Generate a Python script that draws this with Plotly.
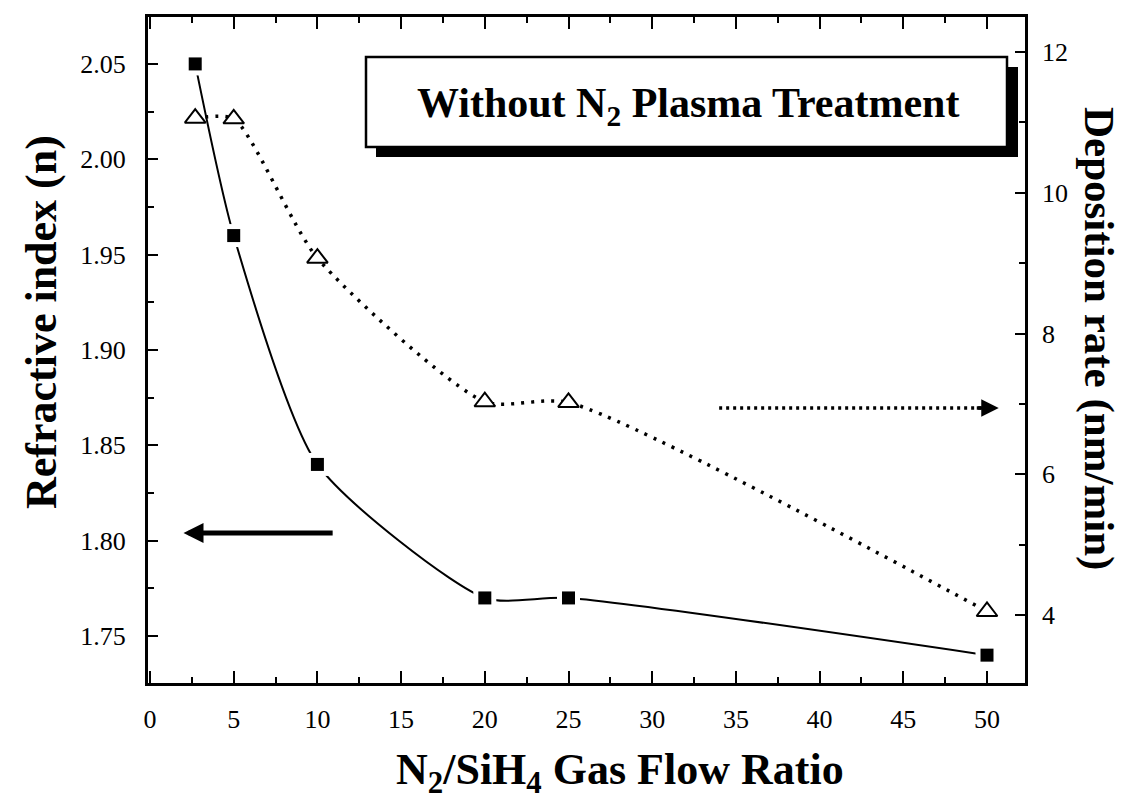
import plotly.graph_objects as go

# ---------------- data ----------------
ratio = [2.7, 5, 10, 20, 25, 50]                     # N2/SiH4 gas flow ratio
refr_index = [2.05, 1.96, 1.84, 1.77, 1.77, 1.74]     # refractive index (left axis)
dep_rate = [11.06, 11.05, 9.07, 7.03, 7.02, 4.05]     # deposition rate nm/min (right axis)
x_ticks = [0, 5, 10, 15, 20, 25, 30, 35, 40, 45, 50]
y_ticks = [1.75, 1.80, 1.85, 1.90, 1.95, 2.00, 2.05]
y2_ticks = [4, 6, 8, 10, 12]

# ---------------- geometry helpers ----------------
W, H = 1125, 799
L, R, T, B = 148, 1025, 17, 683  # plot-area pixel edges
def px(x):
    return (x - L) / (R - L)
def py(y):
    return (B - y) / (B - T)

FONT = "Liberation Serif"

fig = go.Figure()

# solid spline for refractive index
fig.add_trace(go.Scatter(x=ratio, y=refr_index, mode="lines",
                         line=dict(color="black", width=2, shape="spline", smoothing=0.65),
                         yaxis="y", hoverinfo="skip"))
# white gap markers around squares
fig.add_trace(go.Scatter(x=ratio, y=refr_index, mode="markers",
                         marker=dict(symbol="square", size=23, color="white",
                                     line=dict(width=0)),
                         yaxis="y", hoverinfo="skip"))
# black squares
fig.add_trace(go.Scatter(x=ratio, y=refr_index, mode="markers",
                         marker=dict(symbol="square", size=13, color="black",
                                     line=dict(width=0)),
                         yaxis="y"))

# dotted spline for deposition rate
fig.add_trace(go.Scatter(x=ratio, y=dep_rate, mode="lines",
                         line=dict(color="black", width=3.5, shape="spline", smoothing=0.65,
                                   dash="3px,7px"),
                         yaxis="y2", hoverinfo="skip"))
# open triangles
fig.add_trace(go.Scatter(x=ratio, y=dep_rate, mode="markers",
                         marker=dict(symbol="triangle-up", size=18, color="white",
                                     line=dict(width=2, color="black")),
                         yaxis="y2"))

axis_common = dict(showgrid=False, zeroline=False, showline=True, linecolor="black",
                   tickcolor="black", ticks="inside",
                   tickfont=dict(family=FONT, size=26, color="black"))

fig.update_layout(
    width=W, height=799,
    margin=dict(l=L, r=W - R, t=T, b=H - B, pad=0),
    paper_bgcolor="white", plot_bgcolor="white",
    showlegend=False,
    xaxis=dict(range=[-0.12, 52.27], tickvals=x_ticks, ticklen=12, tickwidth=2,
               linewidth=3, mirror="ticks", ticklabelstandoff=11,
               minor=dict(ticks="inside", ticklen=6, tickwidth=2, dtick=2.5, tick0=0,
                          tickcolor="black", showgrid=False),
               **axis_common),
    yaxis=dict(range=[1.7254, 2.0746], tickvals=y_ticks, tickformat=".2f",
               ticklen=10, tickwidth=2, linewidth=3, ticklabelstandoff=14,
               minor=dict(ticks="inside", ticklen=6, tickwidth=2, dtick=0.025, tick0=1.75,
                          tickcolor="black", showgrid=False),
               **axis_common),
    yaxis2=dict(range=[3.034, 12.497], tickvals=y2_ticks, overlaying="y", side="right",
                ticklen=10, tickwidth=2, linewidth=2.5, ticklabelstandoff=9,
                minor=dict(ticks="inside", ticklen=6, tickwidth=2, dtick=1, tick0=0,
                           tickcolor="black", showgrid=False),
                **axis_common),
)

ann_common = dict(xref="paper", yref="paper", showarrow=False,
                  xanchor="center", yanchor="middle")

# axis titles as annotations
fig.add_annotation(text="<b>Refractive index (n)</b>", x=px(42), y=py(322), textangle=-90,
                   font=dict(family=FONT, size=44, color="black"), **ann_common)
fig.add_annotation(text="<b>Deposition rate (nm/min)</b>", x=px(1099), y=py(338), textangle=90,
                   font=dict(family=FONT, size=43, color="black"), **ann_common)
fig.add_annotation(text="<b>N<sub>2</sub>/SiH<sub>4</sub> Gas Flow Ratio</b>",
                   x=px(620), y=py(772),
                   font=dict(family=FONT, size=44, color="black"), **ann_common)

# text box with drop shadow
fig.add_shape(type="rect", xref="paper", yref="paper",
              x0=px(376), x1=px(1018), y0=py(157), y1=py(67),
              fillcolor="black", line=dict(width=0), layer="above")
fig.add_shape(type="rect", xref="paper", yref="paper",
              x0=px(366), x1=px(1007), y0=py(147), y1=py(57),
              fillcolor="white", line=dict(color="black", width=2.5), layer="above")
fig.add_annotation(text="<b>Without N<sub>2</sub> Plasma Treatment</b>",
                   x=px(688), y=py(106),
                   font=dict(family=FONT, size=42, color="black"), **ann_common)

# left arrow (refractive index -> left axis)
fig.add_annotation(x=2.0, y=1.804, ax=11.0, ay=1.804, xref="x", yref="y",
                   axref="x", ayref="y", text="", showarrow=True,
                   arrowhead=2, arrowsize=0.8, arrowwidth=5, arrowcolor="black")

# right dotted arrow (deposition rate -> right axis)
fig.add_shape(type="line", xref="x", yref="y2", x0=34.0, x1=50.0, y0=6.94, y1=6.94,
              line=dict(color="black", width=3.5, dash="3px,4px"))
fig.add_annotation(x=50.7, y=6.94, ax=49.3, ay=6.94, xref="x", yref="y2",
                   axref="x", ayref="y2", text="", showarrow=True,
                   arrowhead=2, arrowsize=1, arrowwidth=3.5, arrowcolor="black")

fig.write_html("out.html")
